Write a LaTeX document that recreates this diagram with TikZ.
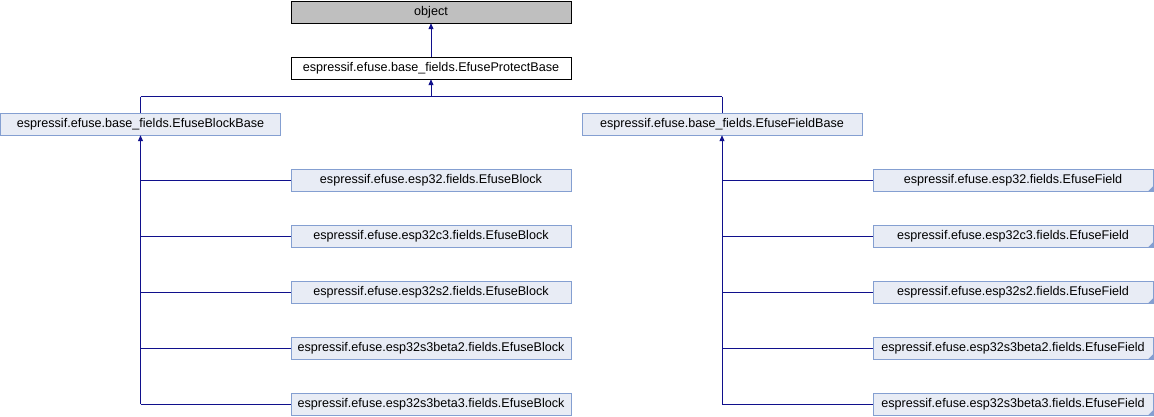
\documentclass[tikz,border=0pt]{standalone}
\usepackage{fontspec}
\setmainfont{Liberation Sans}
\usetikzlibrary{arrows.meta}
\definecolor{edgeblue}{HTML}{10108C}
\definecolor{clsfill}{HTML}{E8ECF5}
\definecolor{clsline}{HTML}{849FD1}
\definecolor{rootfill}{HTML}{BFBFBF}
\begin{document}
\begin{tikzpicture}[x=1pt,y=-1pt,
    box/.style={minimum width=280pt,minimum height=22pt,inner sep=0pt,
      font=\fontsize{12.6}{14}\selectfont},
    cls/.style={box,draw=clsline,fill=clsfill},
    edge/.style={edgeblue,line width=1pt,-{Triangle[width=5pt,length=6pt]}},
    bus/.style={edgeblue,line width=1pt}]

    \useasboundingbox (0,0) rectangle (1154,416);

    \node[box,draw=black,fill=rootfill] (object) at (431,12) {object};
    \node[box,draw=black,fill=white] (protect) at (431,68) {espressif.efuse.base\_fields.EfuseProtectBase};
    \node[cls] (blockbase) at (140.5,124) {espressif.efuse.base\_fields.EfuseBlockBase};
    \node[cls] (fieldbase) at (722,124) {espressif.efuse.base\_fields.EfuseFieldBase};

    % bus between the two base classes
    \coordinate (split) at (431,96.5);
    \coordinate (splitl) at (140.5,96.5);
    \coordinate (splitr) at (722,96.5);
    \draw[edge] (protect.north) -- (object.south);
    \draw[edge] (split) -- (protect.south);
    \draw[bus] (splitl) -- (splitr);
    \draw[bus] (splitl) -- (blockbase.north);
    \draw[bus] (splitr) -- (fieldbase.north);

    % children of both bases
    \foreach \i/\chip in {1/esp32, 2/esp32c3, 3/esp32s2, 4/esp32s3beta2, 5/esp32s3beta3}{
      \node[cls] (block\i) at (431,124+56*\i) {espressif.efuse.\chip.fields.EfuseBlock};
      \node[cls] (field\i) at (1013,124+56*\i) {espressif.efuse.\chip.fields.EfuseField};
      \fill[clsline] (field\i.south east) -- ++(-5,0) -- ++(5,-5) -- cycle;
      \coordinate (bl\i) at (140.5,124+56*\i);
      \coordinate (fl\i) at (722,124+56*\i);
      \draw[bus] (bl\i) -- (block\i.west);
      \draw[bus] (fl\i) -- (field\i.west);
    }
    \draw[edge] (bl5) -- (blockbase.south);
    \draw[edge] (fl5) -- (fieldbase.south);

\end{tikzpicture}
\end{document}
